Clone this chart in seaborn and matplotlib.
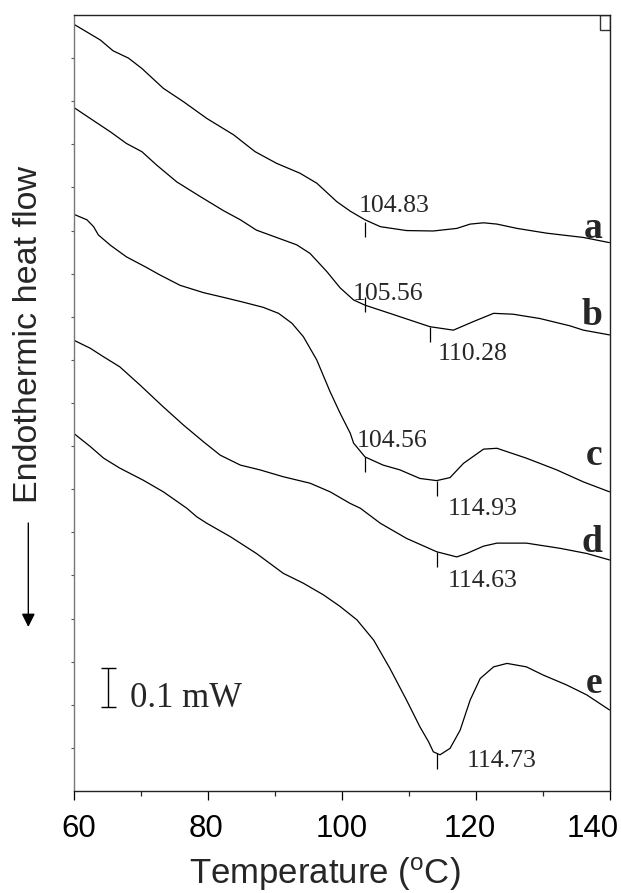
import numpy as np
import pandas as pd
import matplotlib
matplotlib.use('Agg')
import matplotlib.pyplot as plt
import matplotlib.transforms as mtransforms
from matplotlib.patches import Rectangle
import seaborn as sns

# DSC traces (temperature in oC, heat flow in mW with offset)
temp_a = [60, 64, 65.9, 68.2, 70.2, 73.4, 76.4, 79.9, 83.9, 87.1, 90.3, 93.8, 96.3, 99.3,
          101.3, 103.5, 105.8, 109.7, 113.7, 117.2, 119.2, 121.2, 123.2, 126.2, 130.6, 136.1, 140]
flow_a = [1.779, 1.742, 1.717, 1.700, 1.676, 1.630, 1.599, 1.560, 1.522, 1.483, 1.456, 1.433, 1.410, 1.367,
          1.345, 1.325, 1.309, 1.300, 1.299, 1.305, 1.315, 1.318, 1.315, 1.305, 1.294, 1.284, 1.272]

temp_b = [60, 62.5, 65.5, 67.9, 70.2, 72.4, 75.4, 78.9, 82.4, 84.9, 87.3, 90.3, 93.3, 95.3,
          97.8, 99.8, 101.8, 103.5, 107.2, 113.2, 116.7, 119.7, 122.7, 125.6, 129.6, 134.1, 136.1, 140]
flow_b = [1.586, 1.560, 1.529, 1.502, 1.483, 1.452, 1.413, 1.379, 1.346, 1.325, 1.301, 1.284, 1.267, 1.247,
          1.205, 1.167, 1.139, 1.127, 1.108, 1.077, 1.069, 1.089, 1.108, 1.106, 1.096, 1.079, 1.069, 1.058]

temp_c = [60, 62.0, 63.0, 63.7, 65.5, 67.9, 70.7, 72.9, 75.9, 79.4, 82.4, 85.3, 88.3, 90.6, 92.6,
          94.3, 96.3, 98.3, 99.8, 101.3, 101.8, 103.5, 106.2, 108.7, 111.7, 114.2, 116.2, 118.2,
          121.2, 123.2, 127.6, 132.1, 136.1, 140]
flow_c = [1.338, 1.325, 1.309, 1.290, 1.266, 1.239, 1.216, 1.197, 1.173, 1.156, 1.145, 1.134, 1.122, 1.108, 1.085,
          1.054, 1.000, 0.926, 0.876, 0.830, 0.807, 0.775, 0.756, 0.745, 0.725, 0.720, 0.727, 0.760,
          0.793, 0.795, 0.772, 0.745, 0.717, 0.694]

temp_d = [60, 62.5, 64.5, 66.9, 69.9, 73.4, 76.4, 79.4, 81.9, 84.9, 87.8, 91.3, 95.3, 98.3,
          101.3, 102.8, 105.8, 109.7, 114.2, 117.2, 118.7, 121.2, 123.2, 127.6, 132.6, 136.6, 140]
flow_d = [1.046, 1.027, 1.007, 0.984, 0.942, 0.891, 0.849, 0.810, 0.779, 0.756, 0.745, 0.729, 0.714, 0.694,
          0.667, 0.656, 0.621, 0.586, 0.555, 0.543, 0.551, 0.568, 0.575, 0.575, 0.563, 0.551, 0.536]

temp_e = [60, 62.5, 64.5, 66.9, 70.4, 73.4, 76.9, 78.4, 79.9, 83.4, 87.3, 91.3, 94.3, 97.3, 99.8,
          102.3, 104.8, 107.2, 109.7, 111.7, 113.0, 113.7, 114.7, 116.2, 117.7, 119.2, 120.7, 122.7,
          124.7, 127.6, 130.1, 133.6, 136.6, 140]
flow_e = [0.830, 0.799, 0.772, 0.749, 0.721, 0.694, 0.656, 0.636, 0.621, 0.590, 0.551, 0.505, 0.482, 0.455, 0.428,
          0.397, 0.350, 0.285, 0.211, 0.149, 0.114, 0.091, 0.084, 0.099, 0.141, 0.211, 0.261, 0.288,
          0.296, 0.288, 0.269, 0.246, 0.223, 0.188]

samples = ['a', 'b', 'c', 'd', 'e']

# transition marks: which trace, where the tick sits, and the printed value
mark_sample = ['a', 'b', 'b', 'c', 'c', 'd', 'e']
mark_temp = [103.5, 103.5, 113.2, 103.5, 114.2, 114.2, 114.2]
mark_text = ['104.83', '105.56', '110.28', '104.56', '114.93', '114.63', '114.73']

x_ticks = [60, 80, 100, 120, 140]

# long table for seaborn
traces = {'a': (temp_a, flow_a), 'b': (temp_b, flow_b), 'c': (temp_c, flow_c),
          'd': (temp_d, flow_d), 'e': (temp_e, flow_e)}
df = pd.concat([pd.DataFrame({'temperature': t, 'heat_flow': f, 'sample': s})
                for s, (t, f) in traces.items()], ignore_index=True)

sns.set_style('ticks')
plt.rcParams['font.family'] = ['Liberation Sans', 'DejaVu Sans']
plt.rcParams['mathtext.default'] = 'regular'

fig = plt.figure(figsize=(6.21, 8.93), dpi=100)
ax = fig.add_axes([0.1184, 0.1142, 0.8631, 0.8690])

sns.lineplot(data=df, x='temperature', y='heat_flow', units='sample', estimator=None,
             sort=False, color='black', lw=0.9, ax=ax, legend=False)

ax.set_xlim(60, 140)
ax.set_ylim(0, 1.8)

# small vertical tick at each marked transition
tick_top = [-0.005, 0.019, 0, 0, 0, 0, 0]  # offset of tick top from the curve
text_pos = [(102.5, 1.343), (101.6, 1.139), (114.4, 1.000), (102.3, 0.798),
            (115.8, 0.640), (115.8, 0.473), (118.7, 0.056)]
for s, t, txt, top, (tx, ty) in zip(mark_sample, mark_temp, mark_text, tick_top, text_pos):
    yc = np.interp(t, *traces[s]) + top
    ax.vlines(t, yc - 0.036, yc, color='black', lw=0.9)
    ax.text(tx, ty, txt, family='Liberation Serif', fontsize=18.5, va='baseline', ha='left')

# curve letters on the right
letter_y = [1.283, 1.081, 0.756, 0.554, 0.227]
for s, y in zip(samples, letter_y):
    ax.text(139.0, y, s, family='Liberation Serif', fontweight='bold', fontsize=27,
            ha='right', va='baseline')

# 0.1 mW scale bar
ax.vlines(65.2, 0.194, 0.285, color='black', lw=1.0)
ax.hlines([0.194, 0.285], 64.05, 66.35, color='black', lw=1.0)
ax.text(68.4, 0.195, '0.1 mW', family='Liberation Serif', fontsize=25, va='baseline')

# little box in the top right corner
ax.add_patch(Rectangle((0.982, 0.981), 0.018, 0.019, transform=ax.transAxes,
                       fill=False, lw=1.0, ec='#333333'))

# axes styling
for side in ['top', 'right', 'bottom']:
    ax.spines[side].set_color('#222222')
    ax.spines[side].set_linewidth(1.0)
ax.spines['left'].set_color('#777777')
ax.spines['left'].set_linewidth(1.0)

ax.set_xticks(x_ticks)
ax.set_xticks([70, 90, 110, 130], minor=True)
ax.set_xticklabels([str(v) for v in x_ticks])
ax.tick_params(axis='x', which='major', length=6.5, width=0.9, labelsize=22.5, pad=10, colors='black')
ax.tick_params(axis='x', which='minor', length=3.6, width=0.9)
ax.set_yticks(np.arange(0.1, 1.75, 0.1))
ax.tick_params(axis='y', which='major', length=2.2, width=0.8, labelleft=False, color='#555555')

# nudge the edge tick labels like in the original
for tk, dx in zip(ax.xaxis.get_major_ticks(), [5, -2, 0, -6, -17]):
    tk.label1.set_transform(tk.label1.get_transform() +
                            mtransforms.ScaledTranslation(dx / 100, 0, fig.dpi_scale_trans))

ax.set_xlabel('Temperature ($^{o}$C)', fontsize=25)
ax.xaxis.label.set_va('baseline')
ax.xaxis.set_label_coords(0.469, -0.1195)

ax.set_ylabel('Endothermic heat flow', fontsize=24.5)
ax.yaxis.label.set_va('baseline')
ax.yaxis.set_label_coords(-0.0687, 0.588)

# downward arrow under the y label
ax.annotate('', xy=(0.0456, 0.2979), xytext=(0.0456, 0.4143),
            xycoords='figure fraction', textcoords='figure fraction',
            arrowprops=dict(arrowstyle='-|>', color='black', lw=1.0, mutation_scale=20,
                            shrinkA=0, shrinkB=0))

plt.savefig('out.png', dpi=100)
